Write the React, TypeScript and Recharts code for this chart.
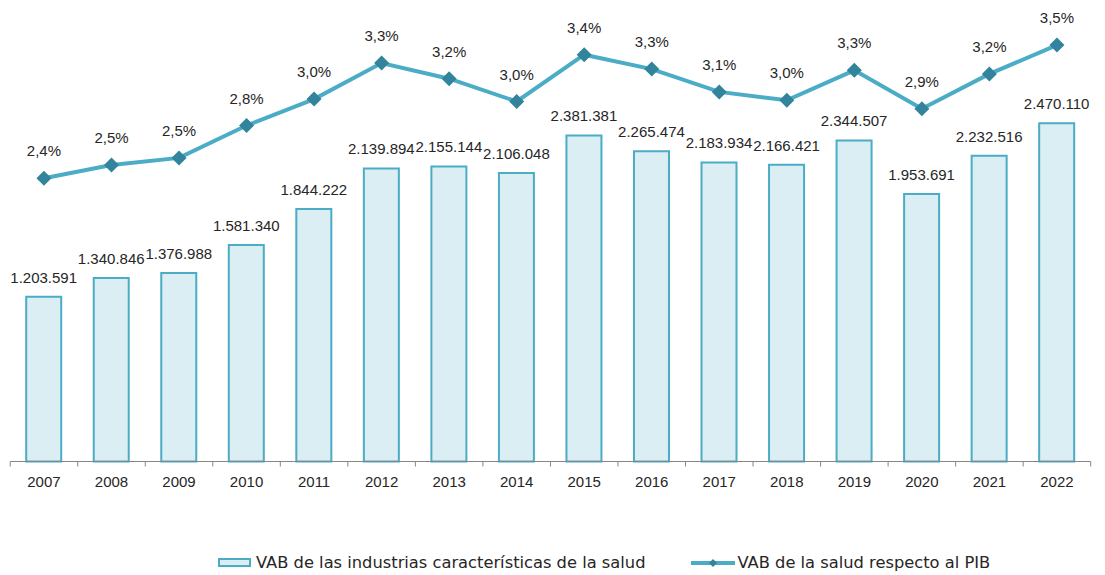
import React from "react";
import {
  ComposedChart,
  Bar,
  Line,
  XAxis,
  YAxis,
  Legend,
  LabelList,
} from "recharts";

const years = [
  "2007", "2008", "2009", "2010", "2011", "2012", "2013", "2014",
  "2015", "2016", "2017", "2018", "2019", "2020", "2021", "2022",
];

// VAB de las industrias características de la salud
const vabValues = [
  1203591, 1340846, 1376988, 1581340, 1844222, 2139894, 2155144, 2106048,
  2381381, 2265474, 2183934, 2166421, 2344507, 1953691, 2232516, 2470110,
];

// VAB de la salud respecto al PIB (%)
const pibShare = [
  2.36, 2.47, 2.53, 2.8, 3.02, 3.32, 3.19, 3.0,
  3.39, 3.27, 3.08, 3.01, 3.26, 2.94, 3.23, 3.47,
];

const barLabel = "VAB de las industrias características de la salud";
const lineLabel = "VAB de la salud respecto al PIB";

const data = years.map((year, i) => ({
  year,
  vab: vabValues[i],
  pct: pibShare[i],
}));

const FONT = "'Century Gothic', 'Liberation Sans', Arial, sans-serif";
const LEGEND_FONT = "'Century Gothic', 'DejaVu Sans', sans-serif";
const LINE_COLOR = "#4BACC6";
const MARKER_COLOR = "#31849B";
const BAR_FILL = "#DAEEF3";
const AXIS_COLOR = "#868686";
const TEXT = "#262626";
const TICK_SIZE = 5;
const TICK_MARGIN = 10;

const fmtThousands = (v: any) =>
  String(v).replace(/\B(?=(\d{3})+(?!\d))/g, ".");
const fmtPct = (v: any) => Number(v).toFixed(1).replace(".", ",") + "%";

function Diamond(props: any) {
  const { cx, cy } = props;
  if (cx == null || cy == null) return null;
  const r = 7.5;
  return (
    <polygon
      points={`${cx},${cy - r} ${cx + r},${cy} ${cx},${cy + r} ${cx - r},${cy}`}
      fill={MARKER_COLOR}
    />
  );
}

// year label plus tick marks on the category boundaries (Excel style)
function YearTick(props: any) {
  const { x, y, payload, index, visibleTicksCount } = props;
  const half = payload?.offset ?? 0;
  const axisY = y - TICK_SIZE - TICK_MARGIN;
  const isLast = index === visibleTicksCount - 1;
  return (
    <g>
      <line x1={x - half} x2={x - half} y1={axisY} y2={axisY + TICK_SIZE} stroke={AXIS_COLOR} />
      {isLast && (
        <line x1={x + half} x2={x + half} y1={axisY} y2={axisY + TICK_SIZE} stroke={AXIS_COLOR} />
      )}
      <text
        x={x}
        y={y}
        dy="0.71em"
        textAnchor="middle"
        fontSize={15}
        fill={TEXT}
        fontFamily={FONT}
      >
        {payload.value}
      </text>
    </g>
  );
}

function LegendContent() {
  return (
    <div
      style={{
        display: "flex",
        alignItems: "center",
        marginLeft: 218,
        fontFamily: LEGEND_FONT,
        fontSize: 16.3,
        color: TEXT,
        whiteSpace: "nowrap",
      }}
    >
      <div
        style={{
          width: 29,
          height: 5,
          background: BAR_FILL,
          border: `2px solid ${LINE_COLOR}`,
          marginRight: 5,
        }}
      />
      <span>{barLabel}</span>
      <svg width={44} height={10} style={{ marginLeft: 46, marginRight: 2 }}>
        <line x1={0} y1={5} x2={44} y2={5} stroke={LINE_COLOR} strokeWidth={4} />
        <polygon points="22,1 26,5 22,9 18,5" fill={MARKER_COLOR} />
      </svg>
      <span>{lineLabel}</span>
    </div>
  );
}

export default function App() {
  return (
    <div style={{ position: "absolute", left: 0, top: 0, background: "#fff" }}>
      <ComposedChart
        width={1105}
        height={575}
        data={data}
        margin={{ top: 5.5, right: 14.3, left: 10.2, bottom: 83.5 }}
      >
        <XAxis
          dataKey="year"
          height={30}
          tickLine={false}
          tickSize={TICK_SIZE}
          tickMargin={TICK_MARGIN}
          axisLine={{ stroke: AXIS_COLOR, strokeWidth: 1 }}
          tick={<YearTick />}
          interval={0}
        />
        <YAxis yAxisId="bar" hide width={0} domain={[0, 3330000]} />
        <YAxis yAxisId="pct" hide width={0} domain={[0, 3.8]} />
        <Legend
          verticalAlign="middle"
          content={<LegendContent />}
          wrapperStyle={{ top: 553, left: 0, width: 1105 }}
        />
        <Bar
          yAxisId="bar"
          dataKey="vab"
          fill={BAR_FILL}
          stroke={LINE_COLOR}
          strokeWidth={2}
          barSize={35}
          isAnimationActive={false}
        >
          <LabelList
            dataKey="vab"
            position="top"
            offset={14}
            formatter={fmtThousands}
            style={{ fontSize: 15, fill: TEXT, fontFamily: FONT }}
          />
        </Bar>
        <Line
          yAxisId="pct"
          dataKey="pct"
          type="linear"
          stroke={LINE_COLOR}
          strokeWidth={4}
          dot={<Diamond />}
          activeDot={false}
          isAnimationActive={false}
        >
          <LabelList
            dataKey="pct"
            position="top"
            offset={22}
            formatter={fmtPct}
            style={{ fontSize: 15, fill: TEXT, fontFamily: FONT }}
          />
        </Line>
      </ComposedChart>
    </div>
  );
}
